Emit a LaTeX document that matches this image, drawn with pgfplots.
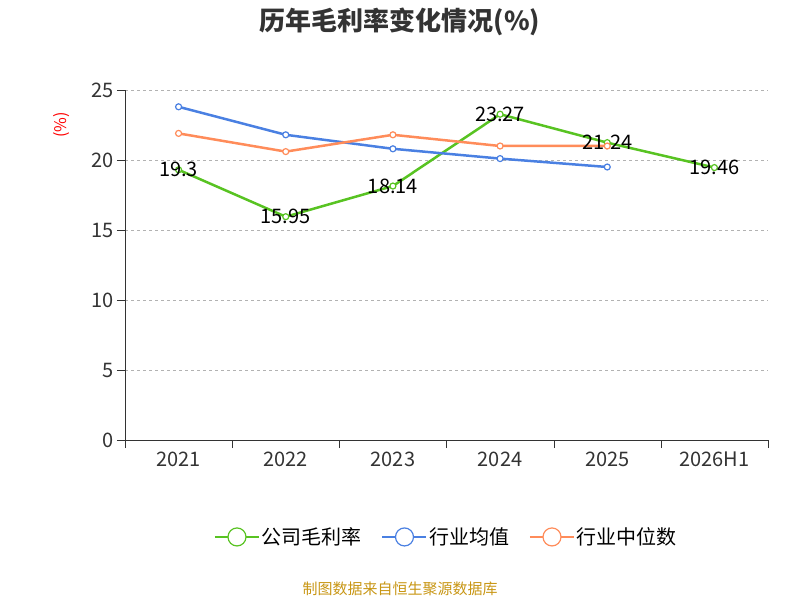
\documentclass[border=0pt]{standalone}
\usepackage{pgfplots}
\pgfplotsset{compat=1.18}
\usepackage{fontspec}
\setmainfont{Noto Sans CJK SC}
\definecolor{cg}{HTML}{58C322}
\definecolor{cb}{HTML}{4A80E2}
\definecolor{co}{HTML}{FF8C5A}
\definecolor{tx}{HTML}{333333}
\begin{document}
\begin{tikzpicture}[x=1pt,y=1pt]
\path (0,0) rectangle (800,600);
\node[font=\fontsize{26}{30}\selectfont\bfseries,text=tx] at (400,578) {历年毛利率变化情况(\%)};
\node[font=\fontsize{16}{18}\selectfont,text=red,rotate=90] at (62,475) {(\%)};
\node[font=\fontsize{15}{18}\selectfont,text={rgb,255:red,200;green,150;blue,20}] at (400,11) {制图数据来自恒生聚源数据库};
\begin{axis}[at={(125pt,160pt)},anchor=south west,scale only axis,width=643pt,height=350pt,
 xmin=-0.5,xmax=5.5,ymin=0,ymax=25,
 xtick={0,...,5},xticklabels={2021,2022,2023,2024,2025,2026H1},
 major x tick style={draw=none},
 minor xtick={-0.5,0.5,...,5.5},minor tick length=8pt,
 ytick={0,5,...,25},
 tick align=outside,major tick length=8pt,
 ticklabel style={font=\fontsize{20}{24}\selectfont,text=tx},
 /pgf/number format/assume math mode=true,
 axis x line*=bottom,axis y line*=left,
 axis line style={tx},tick style={tx},
 ymajorgrids,grid style={dashed,gray!60},
 legend style={at={(0.5,-0.277)},anchor=center,draw=none,legend columns=3,
   font=\fontsize{20}{24}\selectfont,/tikz/every even column/.append style={column sep=18pt}},
 legend image code/.code={\draw[#1,line width=1.5pt] (0pt,0pt)--(44pt,0pt); \draw[#1,fill=white,line width=1.2pt] (22pt,0pt) circle (9pt);},
 clip=false]
\addplot[cg,line width=2.5pt,mark=*,mark size=3pt,mark options={fill=white,line width=1.2pt},
 nodes near coords,point meta=explicit symbolic,
 every node near coord/.style={anchor=center,font=\fontsize{20}{24}\selectfont,text=black}]
 table[meta=l]{x y l
0 19.3 19.3
1 15.95 15.95
2 18.14 18.14
3 23.27 23.27
4 21.24 21.24
5 19.46 19.46
};
\addlegendentry{公司毛利率}
\addplot[cb,line width=2.5pt,mark=*,mark size=3pt,mark options={fill=white,line width=1.2pt}]
 coordinates{(0,23.8)(1,21.8)(2,20.8)(3,20.1)(4,19.5)};
\addlegendentry{行业均值}
\addplot[co,line width=2.5pt,mark=*,mark size=3pt,mark options={fill=white,line width=1.2pt}]
 coordinates{(0,21.9)(1,20.6)(2,21.8)(3,21.0)(4,21.0)};
\addlegendentry{行业中位数}
\end{axis}
\end{tikzpicture}
\end{document}
